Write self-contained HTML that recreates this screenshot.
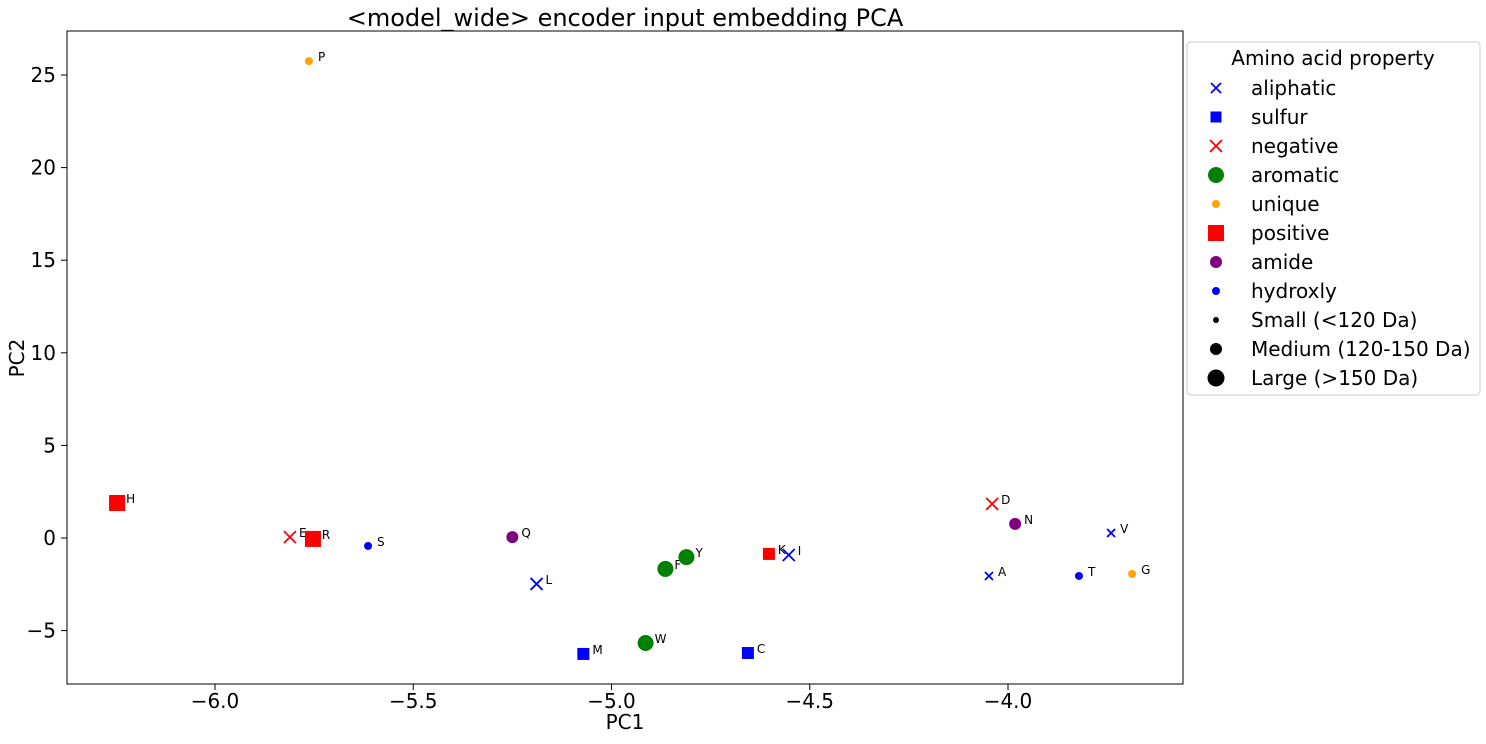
<!DOCTYPE html>
<html><head><meta charset="utf-8"><style>
body{margin:0;background:#fff;font-family:"DejaVu Sans",sans-serif}
svg text{font-family:"DejaVu Sans",sans-serif}
</style></head><body>
<svg id="chart" width="1486" height="740">
<text x="625" y="26" font-size="24" text-anchor="middle">&lt;model_wide&gt; encoder input embedding PCA</text>
<rect x="67" y="31" width="1116" height="653" fill="none" stroke="#000" stroke-width="1"/>
<g id="xt"></g><g id="yt"></g><g id="pts"></g>
<text x="625" y="729" font-size="20" text-anchor="middle">PC1</text>
<text x="24" y="358" font-size="20" text-anchor="middle" transform="rotate(-90 24 358)">PC2</text>
<g id="legend">
<rect x="1187" y="42" width="293" height="353" rx="4" fill="#fff" stroke="#ccc"/>
<text x="1333" y="65" font-size="20" text-anchor="middle">Amino acid property</text>
</g>
</svg>
<script>
const labels=["P","H","E","R","S","Q","L","M","W","F","Y","C","K","I","D","A","N","T","V","G"];
const pc1=[-5.763,-6.247,-5.811,-5.753,-5.614,-5.250,-5.189,-5.071,-4.914,-4.864,-4.811,-4.656,-4.603,-4.553,-4.040,-4.048,-3.982,-3.821,-3.740,-3.687];
const pc2=[25.75,1.89,0.05,-0.05,-0.43,0.05,-2.48,-6.26,-5.67,-1.67,-1.03,-6.21,-0.86,-0.92,1.84,-2.05,0.76,-2.05,0.27,-1.94];
const props=["unique","positive","negative","positive","hydroxly","amide","aliphatic","sulfur","aromatic","aromatic","aromatic","sulfur","positive","aliphatic","negative","aliphatic","amide","hydroxly","aliphatic","unique"];
const sizes=["S","L","M","L","S","M","M","M","L","L","L","M","M","M","M","S","M","S","S","S"];
const xTicks=[-6.0,-5.5,-5.0,-4.5,-4.0];
const yTicks=[-5,0,5,10,15,20,25];
const styles={aliphatic:["x","blue"],sulfur:["s","blue"],negative:["x","red"],aromatic:["o","green"],unique:["o","orange"],positive:["s","red"],amide:["o","purple"],hydroxly:["o","blue"]};
const sz={S:4,M:6,L:8};
const X=v=>215+(v+6)*396.5, Y=v=>538-v*18.52;
const NS="http://www.w3.org/2000/svg";
function mk(t,a,p){const e=document.createElementNS(NS,t);for(const k in a)e.setAttribute(k,a[k]);p.appendChild(e);return e;}
const xt=document.getElementById('xt'),yt=document.getElementById('yt'),pts=document.getElementById('pts'),lg=document.getElementById('legend');
xTicks.forEach(v=>{const x=X(v);
const l=mk('line',{x1:x,x2:x,y1:684,y2:690,stroke:'#000'},xt);


const t=mk('text',{x:x,y:708,'font-size':20,'text-anchor':'middle'},xt);t.textContent=(v<0?'\u2212':'')+Math.abs(v).toFixed(1);

});
yTicks.forEach(v=>{const y=Y(v);
const l=mk('line',{x1:61,x2:67,y1:y,y2:y,stroke:'#000'},yt);


const t=mk('text',{x:56,y:y+7,'font-size':20,'text-anchor':'end'},yt);t.textContent=(v<0?'\u2212':'')+Math.abs(v);

});
function marker(shape,color,x,y,r,p){
 if(shape==='o')return mk('circle',{cx:x,cy:y,r:r,fill:color},p);
 if(shape==='s')return mk('rect',{x:x-r,y:y-r,width:2*r,height:2*r,fill:color},p);
 return mk('path',{d:`M${x-r} ${y-r}L${x+r} ${y+r}M${x-r} ${y+r}L${x+r} ${y-r}`,stroke:color,'stroke-width':1.8,fill:'none'},p);
}
labels.forEach((lab,i)=>{const [s,c]=styles[props[i]];const x=X(pc1[i]),y=Y(pc2[i]);
const m=marker(s,c,x,y,sz[sizes[i]],pts);


const t=mk('text',{x:x+9,y:y,'font-size':12},pts);t.textContent=lab;

});
const leg=[["aliphatic","x","blue",5],["sulfur","s","blue",5.5],["negative","x","red",6],["aromatic","o","green",8],["unique","o","orange",4],["positive","s","red",8],["amide","o","purple",6],["hydroxly","o","blue",4],["Small (<120 Da)","o","black",3],["Medium (120-150 Da)","o","black",6],["Large (>150 Da)","o","black",8.5]];
leg.forEach((e,i)=>{const y=88+i*29;
const g=mk('g',{},lg);


marker(e[1],e[2],1216,y,e[3],g);
const t=mk('text',{x:1251,y:y+7,'font-size':20},g);t.textContent=e[0];});
</script>
</body></html>
